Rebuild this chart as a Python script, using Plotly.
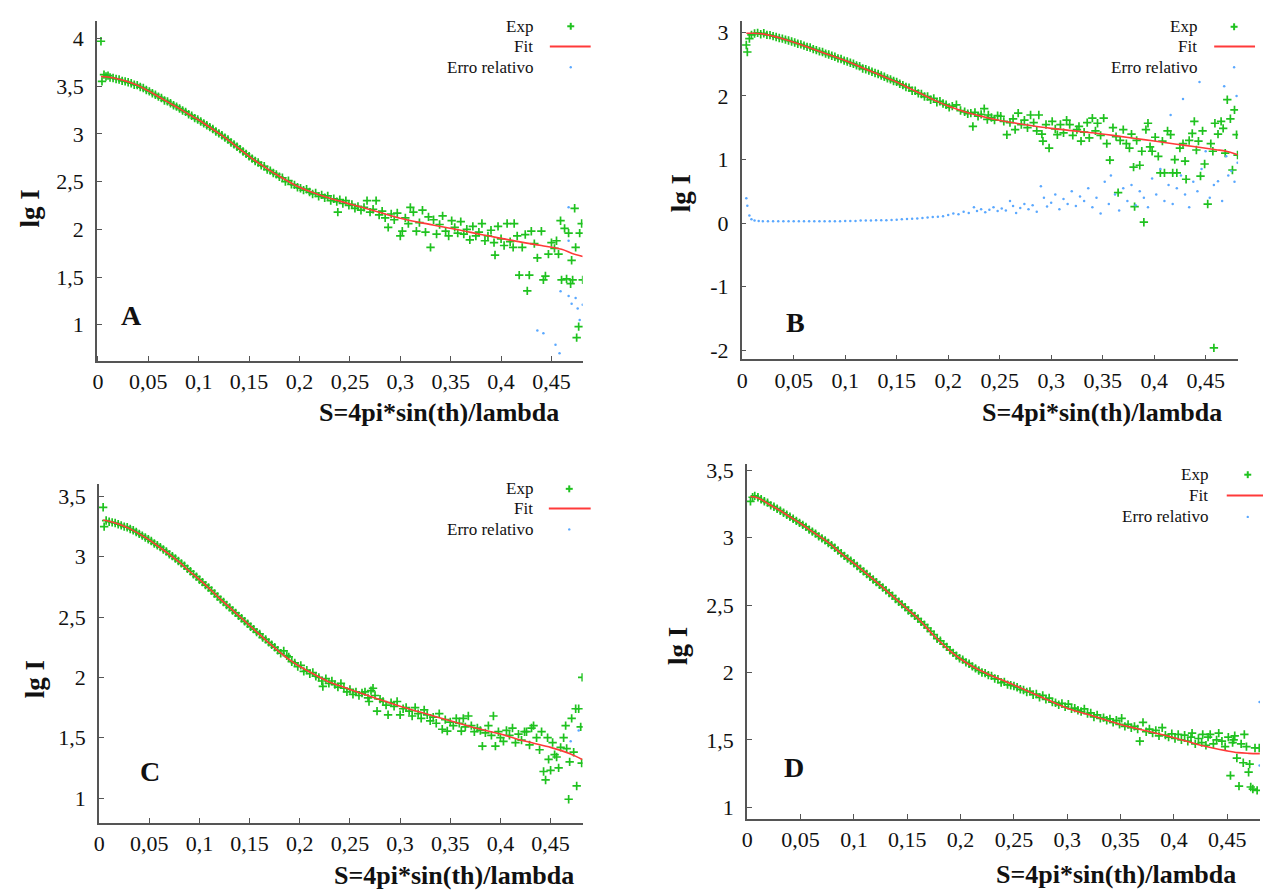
import plotly.graph_objects as go

# ---------------- data (S, lg I) ----------------
A_EXP = [(0.003,3.97),(0.004,3.55),(0.006,3.62),(0.008,3.60),(0.010,3.61),(0.012,3.59),(0.015,3.585),(0.018,3.575),
(0.021,3.57),(0.024,3.555),(0.027,3.55),(0.030,3.54),(0.033,3.53),(0.036,3.515),(0.039,3.51),(0.042,3.49),(0.045,3.48),
(0.048,3.46),(0.051,3.445),(0.054,3.425),(0.057,3.41),(0.060,3.39),(0.063,3.375),(0.066,3.35),(0.069,3.34),(0.072,3.32),
(0.075,3.30),(0.078,3.285),(0.081,3.265),(0.084,3.245),(0.087,3.23),(0.090,3.205),(0.093,3.19),(0.096,3.165),(0.099,3.15),
(0.102,3.13),(0.105,3.11),(0.108,3.09),(0.111,3.07),(0.114,3.05),(0.117,3.025),(0.120,3.005),(0.123,2.985),(0.126,2.96),
(0.129,2.94),(0.132,2.91),(0.135,2.89),(0.138,2.865),(0.141,2.84),(0.144,2.815),(0.147,2.79),(0.150,2.765),(0.153,2.74),
(0.156,2.715),(0.159,2.70),(0.162,2.67),(0.165,2.66),(0.168,2.625),(0.171,2.615),(0.174,2.59),(0.177,2.575),(0.180,2.55),
(0.183,2.54),(0.186,2.50),(0.189,2.51),(0.192,2.47),(0.195,2.465),(0.198,2.44),(0.201,2.43),(0.204,2.41),(0.207,2.42),
(0.210,2.39),(0.213,2.37),(0.216,2.38),(0.219,2.345),(0.222,2.36),(0.225,2.33),(0.228,2.35),(0.231,2.30),(0.234,2.32),
(0.237,2.29),(0.238,2.18),(0.240,2.31),(0.243,2.27),(0.246,2.30),(0.249,2.25),(0.252,2.26),(0.255,2.22),(0.258,2.24),
(0.261,2.20),(0.264,2.23),(0.267,2.30),(0.270,2.18),(0.273,2.21),(0.276,2.30),(0.279,2.15),(0.282,2.19),(0.285,2.12),
(0.288,2.02),(0.291,2.16),(0.294,2.10),(0.297,2.17),(0.300,1.93),(0.302,1.98),(0.305,2.12),(0.308,2.06),(0.310,2.23),
(0.313,2.18),(0.316,1.98),(0.319,2.07),(0.322,2.20),(0.325,1.97),(0.328,2.13),(0.330,1.81),(0.333,2.10),(0.336,1.95),
(0.339,2.05),(0.342,2.14),(0.345,1.98),(0.348,1.93),(0.351,2.09),(0.354,2.02),(0.357,1.96),(0.360,2.08),(0.363,1.95),
(0.366,2.00),(0.369,1.89),(0.372,2.03),(0.375,1.93),(0.378,1.97),(0.381,2.06),(0.384,1.88),(0.387,1.93),(0.390,1.99),
(0.393,1.86),(0.394,1.73),(0.397,2.03),(0.400,1.90),(0.403,1.83),(0.406,2.06),(0.409,1.87),(0.412,1.81),(0.413,2.06),
(0.416,1.93),(0.418,1.52),(0.421,1.81),(0.424,1.945),(0.426,1.355),(0.428,1.52),(0.430,1.98),(0.433,1.85),(0.436,1.70),
(0.440,1.98),(0.442,1.47),(0.444,1.51),(0.447,1.74),(0.450,1.86),(0.453,1.80),(0.455,1.88),(0.457,1.74),(0.459,2.09),
(0.460,1.47),(0.463,2.01),(0.465,1.48),(0.467,1.96),(0.469,1.43),(0.470,1.675),(0.471,1.47),(0.473,2.22),(0.474,1.81),
(0.475,0.865),(0.477,0.98),(0.478,1.96),(0.480,2.06),(0.481,1.47)]

A_FIT = [(0.003,3.600),(0.01,3.595),(0.02,3.575),(0.03,3.545),(0.04,3.505),(0.05,3.45),(0.06,3.39),(0.07,3.33),(0.08,3.27),
(0.09,3.205),(0.10,3.145),(0.11,3.075),(0.12,3.005),(0.13,2.93),(0.14,2.845),(0.15,2.765),(0.16,2.69),(0.17,2.62),
(0.18,2.555),(0.19,2.495),(0.20,2.44),(0.22,2.36),(0.24,2.295),(0.26,2.235),(0.28,2.175),(0.30,2.115),(0.32,2.07),
(0.34,2.03),(0.36,1.99),(0.38,1.945),(0.40,1.905),(0.42,1.865),(0.44,1.83),(0.46,1.79),(0.47,1.75),(0.481,1.715)]

A_ERR = [(0.436,0.94),(0.442,0.91),(0.454,0.79),(0.458,0.70),(0.459,1.35),(0.467,1.30),(0.470,1.22),(0.474,1.28),
(0.476,1.17),(0.481,1.21),(0.467,2.23),(0.467,1.88),(0.478,1.05)]

B_EXP = [(0.004,2.80),(0.005,2.69),(0.007,2.90),(0.009,2.96),(0.012,2.98),(0.015,2.99),(0.018,2.97),(0.021,2.985),
(0.024,2.96),(0.027,2.955),(0.030,2.94),(0.033,2.925),(0.036,2.91),(0.039,2.90),(0.042,2.885),(0.045,2.87),(0.048,2.855),
(0.051,2.84),(0.054,2.82),(0.057,2.81),(0.060,2.79),(0.063,2.77),(0.066,2.76),(0.069,2.735),(0.072,2.72),(0.075,2.70),
(0.078,2.69),(0.081,2.665),(0.084,2.65),(0.087,2.63),(0.090,2.615),(0.093,2.59),(0.096,2.58),(0.099,2.555),(0.102,2.54),
(0.105,2.52),(0.108,2.505),(0.111,2.48),(0.114,2.465),(0.117,2.43),(0.120,2.42),(0.123,2.40),(0.126,2.38),(0.129,2.36),
(0.132,2.345),(0.135,2.32),(0.138,2.30),(0.141,2.275),(0.144,2.26),(0.147,2.235),(0.150,2.22),(0.153,2.19),(0.156,2.17),
(0.159,2.14),(0.162,2.13),(0.165,2.08),(0.168,2.08),(0.171,2.04),(0.174,2.03),(0.177,1.99),(0.180,1.99),(0.183,1.94),
(0.186,1.96),(0.189,1.90),(0.192,1.915),(0.195,1.88),(0.198,1.86),(0.201,1.82),(0.204,1.84),(0.208,1.86),(0.212,1.77),
(0.216,1.75),(0.219,1.72),(0.222,1.73),(0.224,1.52),(0.226,1.74),(0.229,1.68),(0.232,1.71),(0.235,1.80),(0.238,1.63),
(0.239,1.70),(0.242,1.66),(0.245,1.62),(0.248,1.69),(0.251,1.68),(0.254,1.60),(0.257,1.39),(0.260,1.58),(0.263,1.64),
(0.265,1.47),(0.268,1.73),(0.271,1.55),(0.274,1.62),(0.277,1.50),(0.280,1.70),(0.283,1.58),(0.286,1.45),(0.288,1.70),
(0.291,1.40),(0.292,1.29),(0.295,1.55),(0.298,1.18),(0.301,1.60),(0.304,1.48),(0.306,1.39),(0.309,1.55),(0.312,1.42),
(0.315,1.62),(0.318,1.55),(0.321,1.38),(0.325,1.47),(0.327,1.52),(0.329,1.29),(0.332,1.43),(0.335,1.58),(0.337,1.34),
(0.340,1.65),(0.343,1.45),(0.345,1.57),(0.348,1.38),(0.351,1.65),(0.354,1.25),(0.357,0.99),(0.360,1.50),(0.363,1.36),
(0.365,0.48),(0.367,1.30),(0.370,1.47),(0.373,1.25),(0.376,1.18),(0.378,1.40),(0.380,0.88),(0.381,0.26),(0.383,1.30),
(0.386,0.91),(0.388,1.13),(0.390,0.015),(0.392,1.47),(0.394,1.57),(0.396,1.20),(0.398,1.13),(0.401,1.35),(0.404,1.05),
(0.406,0.79),(0.408,1.29),(0.410,0.79),(0.413,1.45),(0.416,1.39),(0.418,0.79),(0.420,1.00),(0.422,0.79),(0.425,1.18),
(0.428,1.25),(0.430,0.975),(0.431,0.69),(0.434,1.30),(0.437,1.41),(0.439,1.60),(0.441,1.15),(0.443,1.29),(0.445,0.74),
(0.447,1.45),(0.449,0.93),(0.452,0.30),(0.455,1.25),(0.457,1.13),(0.458,-1.96),(0.459,1.57),(0.462,1.40),(0.465,1.60),
(0.467,1.49),(0.469,1.10),(0.471,1.94),(0.474,1.64),(0.476,0.835),(0.478,1.78),(0.480,1.39),(0.481,1.07)]

B_FIT = [(0.004,2.985),(0.01,2.985),(0.02,2.975),(0.03,2.94),(0.04,2.895),(0.05,2.845),(0.06,2.79),(0.07,2.73),(0.08,2.67),
(0.09,2.615),(0.10,2.555),(0.11,2.49),(0.12,2.42),(0.13,2.355),(0.14,2.285),(0.15,2.22),(0.16,2.14),(0.17,2.06),
(0.18,1.985),(0.19,1.91),(0.20,1.84),(0.22,1.73),(0.24,1.65),(0.26,1.585),(0.28,1.535),(0.30,1.49),(0.32,1.455),
(0.34,1.42),(0.36,1.38),(0.38,1.335),(0.40,1.29),(0.42,1.245),(0.44,1.20),(0.46,1.155),(0.47,1.13),(0.481,1.075)]

B_ERR = [(0.004,0.39),(0.005,0.275),(0.007,0.12),(0.009,0.06),(0.012,0.04),(0.016,0.035),(0.020,0.03),(0.025,0.03),
(0.030,0.03),(0.035,0.03),(0.040,0.03),(0.045,0.03),(0.050,0.03),(0.055,0.03),(0.060,0.03),(0.065,0.03),(0.070,0.03),
(0.075,0.03),(0.080,0.03),(0.085,0.03),(0.090,0.03),(0.095,0.03),(0.100,0.035),(0.105,0.035),(0.110,0.035),(0.115,0.04),
(0.120,0.04),(0.125,0.04),(0.130,0.045),(0.135,0.045),(0.140,0.045),(0.145,0.05),(0.150,0.055),(0.155,0.06),(0.160,0.065),
(0.165,0.07),(0.170,0.075),(0.175,0.08),(0.180,0.09),(0.185,0.095),(0.190,0.10),(0.195,0.11),(0.200,0.13),(0.205,0.15),
(0.210,0.14),(0.215,0.18),(0.220,0.16),(0.225,0.25),(0.228,0.19),(0.232,0.22),(0.236,0.17),(0.240,0.21),(0.244,0.25),
(0.248,0.19),(0.252,0.23),(0.256,0.20),(0.260,0.35),(0.263,0.27),(0.266,0.16),(0.270,0.24),(0.274,0.30),(0.278,0.22),
(0.282,0.28),(0.286,0.18),(0.290,0.58),(0.293,0.40),(0.296,0.26),(0.300,0.32),(0.304,0.45),(0.308,0.22),(0.312,0.38),
(0.316,0.30),(0.320,0.50),(0.324,0.27),(0.328,0.42),(0.332,0.35),(0.336,0.55),(0.340,0.25),(0.344,0.40),(0.348,0.15),
(0.352,0.65),(0.356,0.30),(0.358,0.75),(0.362,0.45),(0.366,0.20),(0.370,0.55),(0.374,0.35),(0.378,0.60),(0.382,0.28),
(0.386,0.50),(0.390,0.40),(0.394,0.25),(0.398,0.70),(0.402,0.45),(0.406,0.85),(0.410,0.35),(0.414,0.60),(0.416,1.70),
(0.418,0.30),(0.422,0.55),(0.426,0.75),(0.428,1.95),(0.430,0.45),(0.434,0.25),(0.438,0.65),(0.442,0.50),(0.444,2.22),
(0.446,0.85),(0.450,1.13),(0.454,0.40),(0.458,0.60),(0.462,0.66),(0.466,0.35),(0.468,2.15),(0.470,1.05),(0.472,0.75),
(0.475,0.82),(0.478,0.65),(0.480,2.00),(0.481,0.95)]

C_EXP = [(0.004,3.41),(0.005,3.25),(0.007,3.30),(0.010,3.29),(0.013,3.285),(0.016,3.28),(0.019,3.27),(0.022,3.26),
(0.025,3.25),(0.028,3.245),(0.031,3.23),(0.034,3.22),(0.037,3.205),(0.040,3.19),(0.043,3.175),(0.046,3.16),(0.049,3.145),
(0.052,3.13),(0.055,3.11),(0.058,3.095),(0.061,3.08),(0.064,3.06),(0.067,3.045),(0.070,3.02),(0.073,3.005),(0.076,2.985),
(0.079,2.965),(0.082,2.945),(0.085,2.925),(0.088,2.90),(0.091,2.88),(0.094,2.855),(0.097,2.835),(0.100,2.81),(0.103,2.79),
(0.106,2.765),(0.109,2.745),(0.112,2.72),(0.115,2.695),(0.118,2.67),(0.121,2.645),(0.124,2.625),(0.127,2.60),(0.130,2.58),
(0.133,2.555),(0.136,2.535),(0.139,2.51),(0.142,2.49),(0.145,2.465),(0.148,2.445),(0.151,2.42),(0.154,2.40),(0.157,2.375),
(0.160,2.36),(0.163,2.33),(0.166,2.315),(0.169,2.29),(0.172,2.27),(0.175,2.25),(0.178,2.225),(0.181,2.20),(0.184,2.22),
(0.187,2.18),(0.189,2.17),(0.192,2.13),(0.195,2.12),(0.198,2.09),(0.201,2.10),(0.204,2.05),(0.207,2.06),(0.210,2.03),
(0.213,2.04),(0.216,2.01),(0.219,2.00),(0.222,1.97),(0.223,1.925),(0.226,1.99),(0.229,1.95),(0.232,1.97),(0.235,1.94),
(0.238,1.92),(0.241,1.95),(0.244,1.91),(0.247,1.88),(0.250,1.90),(0.253,1.86),(0.256,1.88),(0.259,1.85),(0.262,1.87),
(0.265,1.88),(0.268,1.83),(0.269,1.80),(0.271,1.89),(0.273,1.91),(0.275,1.85),(0.277,1.72),(0.280,1.82),(0.283,1.80),
(0.286,1.77),(0.288,1.69),(0.291,1.79),(0.294,1.76),(0.297,1.80),(0.300,1.69),(0.303,1.74),(0.306,1.75),(0.309,1.72),
(0.312,1.68),(0.315,1.75),(0.318,1.70),(0.321,1.66),(0.324,1.73),(0.327,1.69),(0.330,1.64),(0.333,1.67),(0.336,1.62),
(0.339,1.70),(0.342,1.57),(0.345,1.65),(0.347,1.555),(0.350,1.63),(0.353,1.60),(0.356,1.66),(0.359,1.62),(0.361,1.555),
(0.363,1.66),(0.365,1.59),(0.368,1.68),(0.371,1.60),(0.374,1.55),(0.377,1.58),(0.380,1.56),(0.382,1.43),(0.385,1.54),
(0.388,1.60),(0.391,1.52),(0.393,1.68),(0.395,1.43),(0.398,1.55),(0.400,1.50),(0.403,1.47),(0.406,1.56),(0.409,1.52),
(0.412,1.58),(0.415,1.46),(0.418,1.53),(0.421,1.48),(0.424,1.55),(0.426,1.55),(0.429,1.44),(0.431,1.58),(0.433,1.60),
(0.436,1.50),(0.439,1.40),(0.441,1.55),(0.443,1.22),(0.445,1.15),(0.447,1.50),(0.448,1.32),(0.450,1.23),(0.452,1.46),
(0.454,1.36),(0.456,1.34),(0.458,1.25),(0.460,1.42),(0.463,1.50),(0.465,1.60),(0.466,1.41),(0.468,0.99),(0.469,1.30),
(0.471,1.66),(0.473,1.38),(0.475,1.74),(0.476,1.10),(0.478,1.74),(0.480,1.59),(0.481,1.29),(0.4815,2.00)]

C_FIT = [(0.004,3.305),(0.01,3.295),(0.02,3.27),(0.03,3.235),(0.04,3.19),(0.05,3.14),(0.06,3.08),(0.07,3.02),(0.08,2.955),
(0.09,2.88),(0.10,2.81),(0.11,2.735),(0.12,2.655),(0.13,2.58),(0.14,2.505),(0.15,2.43),(0.16,2.355),(0.17,2.28),
(0.18,2.21),(0.19,2.145),(0.20,2.09),(0.21,2.045),(0.22,2.00),(0.23,1.96),(0.24,1.93),(0.25,1.90),(0.275,1.83),
(0.30,1.76),(0.325,1.70),(0.35,1.64),(0.375,1.58),(0.40,1.53),(0.425,1.47),(0.45,1.42),(0.46,1.395),(0.47,1.365),(0.4815,1.32)]

C_ERR = [(0.478,1.56),(0.470,1.47)]

D_EXP = [(0.003,3.27),(0.005,3.30),(0.007,3.31),(0.010,3.30),(0.013,3.285),(0.016,3.27),(0.019,3.26),(0.022,3.24),
(0.025,3.23),(0.028,3.215),(0.031,3.20),(0.034,3.185),(0.037,3.17),(0.040,3.155),(0.043,3.14),(0.046,3.125),(0.049,3.11),
(0.052,3.095),(0.055,3.08),(0.058,3.06),(0.061,3.045),(0.064,3.03),(0.067,3.01),(0.070,2.995),(0.073,2.98),(0.076,2.96),
(0.079,2.945),(0.082,2.925),(0.085,2.905),(0.088,2.885),(0.091,2.865),(0.094,2.845),(0.097,2.83),(0.100,2.81),(0.103,2.79),
(0.106,2.77),(0.109,2.75),(0.112,2.73),(0.115,2.71),(0.118,2.69),(0.121,2.67),(0.124,2.65),(0.127,2.63),(0.130,2.61),
(0.133,2.59),(0.136,2.57),(0.139,2.545),(0.142,2.525),(0.145,2.505),(0.148,2.485),(0.151,2.46),(0.154,2.44),(0.157,2.42),
(0.160,2.40),(0.163,2.375),(0.166,2.355),(0.169,2.33),(0.172,2.305),(0.175,2.28),(0.178,2.25),(0.181,2.235),(0.184,2.21),
(0.187,2.19),(0.190,2.165),(0.193,2.145),(0.196,2.125),(0.199,2.105),(0.202,2.095),(0.205,2.075),(0.208,2.065),(0.211,2.045),
(0.214,2.03),(0.217,2.015),(0.220,2.00),(0.223,1.995),(0.226,1.98),(0.229,1.975),(0.232,1.955),(0.235,1.95),(0.238,1.925),
(0.241,1.93),(0.244,1.91),(0.247,1.905),(0.250,1.90),(0.253,1.89),(0.256,1.875),(0.259,1.87),(0.262,1.855),(0.265,1.86),
(0.268,1.835),(0.271,1.84),(0.274,1.815),(0.277,1.83),(0.280,1.80),(0.283,1.81),(0.286,1.78),(0.289,1.775),(0.292,1.76),
(0.295,1.77),(0.298,1.745),(0.301,1.765),(0.304,1.73),(0.307,1.735),(0.310,1.72),(0.313,1.71),(0.316,1.73),(0.319,1.695),
(0.322,1.70),(0.325,1.67),(0.328,1.685),(0.331,1.66),(0.334,1.665),(0.337,1.645),(0.340,1.655),(0.343,1.63),(0.346,1.645),
(0.349,1.615),(0.351,1.66),(0.354,1.60),(0.357,1.615),(0.360,1.59),(0.363,1.60),(0.366,1.58),(0.368,1.49),(0.371,1.63),
(0.374,1.56),(0.377,1.58),(0.380,1.55),(0.383,1.57),(0.386,1.53),(0.389,1.59),(0.392,1.535),(0.395,1.52),(0.398,1.545),
(0.401,1.51),(0.404,1.54),(0.407,1.50),(0.410,1.535),(0.413,1.49),(0.416,1.52),(0.417,1.55),(0.420,1.47),(0.423,1.51),
(0.426,1.48),(0.427,1.54),(0.430,1.46),(0.432,1.52),(0.434,1.54),(0.437,1.47),(0.440,1.50),(0.442,1.55),(0.445,1.49),
(0.448,1.45),(0.451,1.52),(0.453,1.235),(0.455,1.48),(0.456,1.50),(0.457,1.53),(0.459,1.365),(0.461,1.157),(0.463,1.47),
(0.465,1.33),(0.466,1.54),(0.468,1.45),(0.470,1.26),(0.471,1.32),(0.472,1.15),(0.474,1.135),(0.476,1.44),(0.478,1.125),
(0.480,1.44)]

D_FIT = [(0.003,3.305),(0.01,3.295),(0.02,3.25),(0.025,3.227),(0.03,3.205),(0.04,3.155),(0.05,3.105),(0.06,3.05),
(0.075,2.97),(0.09,2.87),(0.10,2.81),(0.11,2.745),(0.125,2.645),(0.14,2.54),(0.15,2.47),(0.16,2.40),(0.175,2.274),
(0.19,2.16),(0.20,2.10),(0.21,2.05),(0.225,1.99),(0.25,1.907),(0.275,1.82),(0.30,1.735),(0.325,1.675),(0.35,1.614),
(0.375,1.565),(0.40,1.516),(0.425,1.46),(0.45,1.418),(0.46,1.405),(0.47,1.40),(0.4805,1.398)]

D_ERR = [(0.4803,1.78),(0.4803,1.31)]

X_TICKS = [0, 0.05, 0.1, 0.15, 0.2, 0.25, 0.3, 0.35, 0.4, 0.45]
X_TICK_TEXT = ["0", "0,05", "0,1", "0,15", "0,2", "0,25", "0,3", "0,35", "0,4", "0,45"]
Y_TICKS_A = [1, 1.5, 2, 2.5, 3, 3.5, 4]
Y_TICK_TEXT_A = ["1", "1,5", "2", "2,5", "3", "3,5", "4"]
Y_TICKS_B = [-2, -1, 0, 1, 2, 3]
Y_TICK_TEXT_B = ["-2", "-1", "0", "1", "2", "3"]
Y_TICKS_CD = [1, 1.5, 2, 2.5, 3, 3.5]
Y_TICK_TEXT_CD = ["1", "1,5", "2", "2,5", "3", "3,5"]

X_TITLE = "S=4pi*sin(th)/lambda"
Y_TITLE = "lg I"
LEGEND_NAMES = ["Exp", "Fit", "Erro relativo"]

# ---------------- styling / layout ----------------
W, H = 1263, 894
FONT = "Liberation Serif, Times New Roman, serif"
GREEN = "#1fc21f"
RED = "#ff3a3a"
BLUE = "#5aa8ff"
AXC = "#555555"

def fx(p):
    return p / W

def fy(p):
    return 1 - p / H

panels = [
    dict(letter="A", exp=A_EXP, fit=A_FIT, err=A_ERR, xpx=(92.3, 580), ypx=(15, 359.3),
         xr=[-0.001, 0.481], yr=[0.617, 4.184], yt=Y_TICKS_A, ytt=Y_TICK_TEXT_A,
         xtitle=(436, 411), ytitle=(25, 205), lab=(127, 313),
         leg_right=532, leg_y=(20.5, 41, 62), sym_x=568, line_x=(547, 588)),
    dict(letter="B", exp=B_EXP, fit=B_FIT, err=B_ERR, xpx=(739.6, 1238), ypx=(15, 357.3),
         xr=[-0.0005, 0.4815], yr=[-2.14, 3.18], yt=Y_TICKS_B, ytt=Y_TICK_TEXT_B,
         xtitle=(1101, 411), ytitle=(679, 189), lab=(794, 320),
         leg_right=1199, leg_y=(21, 41, 62), sym_x=1234, line_x=(1214, 1255)),
    dict(letter="C", exp=C_EXP, fit=C_FIT, err=C_ERR, xpx=(94.2, 580), ypx=(483.3, 826),
         xr=[-0.0003, 0.482], yr=[0.795, 3.604], yt=Y_TICKS_CD, ytt=Y_TICK_TEXT_CD,
         xtitle=(451, 879), ytitle=(31, 681), lab=(146, 774),
         leg_right=532, leg_y=(488.3, 508.3, 529.3), sym_x=566.5, line_x=(546, 588)),
    dict(letter="D", exp=D_EXP, fit=D_FIT, err=D_ERR, xpx=(744.9, 1260), ypx=(463, 822.3),
         xr=[-0.0003, 0.4807], yr=[0.912, 3.548], yt=Y_TICKS_CD, ytt=Y_TICK_TEXT_CD,
         xtitle=(1115, 878), ytitle=(675, 647), lab=(792, 770),
         leg_right=1209.5, leg_y=(474, 495, 516.7), sym_x=1247.7, line_x=(1226.6, 1263)),
]

fig = go.Figure()
annotations = []
shapes = []
layout_axes = {}

for i, p in enumerate(panels):
    n = "" if i == 0 else str(i + 1)
    xa, ya = "x" + n, "y" + n
    fig.add_trace(go.Scatter(
        x=[v[0] for v in p["exp"]], y=[v[1] for v in p["exp"]], xaxis=xa, yaxis=ya,
        mode="markers", name=LEGEND_NAMES[0], showlegend=False,
        marker=dict(symbol="cross-thin", size=6, line=dict(color=GREEN, width=1.7), color=GREEN)))
    fig.add_trace(go.Scatter(
        x=[v[0] for v in p["fit"]], y=[v[1] for v in p["fit"]], xaxis=xa, yaxis=ya,
        mode="lines", name=LEGEND_NAMES[1], showlegend=False, line_shape="spline",
        line=dict(color=RED, width=1.6)))
    fig.add_trace(go.Scatter(
        x=[v[0] for v in p["err"]], y=[v[1] for v in p["err"]], xaxis=xa, yaxis=ya,
        mode="markers", name=LEGEND_NAMES[2], showlegend=False,
        marker=dict(symbol="circle", size=2.5, color=BLUE, line=dict(width=0))))

    common = dict(showline=True, linecolor=AXC, linewidth=1.6, ticks="inside", ticklen=5,
                  tickwidth=1.4, tickcolor=AXC, showgrid=False, zeroline=False,
                  tickfont=dict(family=FONT, size=22, color="#111111"))
    layout_axes["xaxis" + n] = dict(common, domain=[fx(p["xpx"][0]), fx(p["xpx"][1])], range=p["xr"],
                                    anchor=ya, tickmode="array", tickvals=X_TICKS, ticktext=X_TICK_TEXT,
                                    ticklabelstandoff=0)
    layout_axes["yaxis" + n] = dict(common, domain=[fy(p["ypx"][1]), fy(p["ypx"][0])], range=p["yr"],
                                    anchor=xa, tickmode="array", tickvals=p["yt"], ticktext=p["ytt"],
                                    ticklabelstandoff=7)

    # axis titles and panel letter
    annotations.append(dict(text="<b>%s</b>" % X_TITLE, x=fx(p["xtitle"][0]), y=fy(p["xtitle"][1]),
                            xref="paper", yref="paper", showarrow=False, xanchor="center", yanchor="middle",
                            font=dict(family=FONT, size=26, color="#111111")))
    annotations.append(dict(text="<b>%s</b>" % Y_TITLE, x=fx(p["ytitle"][0]), y=fy(p["ytitle"][1]),
                            xref="paper", yref="paper", showarrow=False, textangle=-90,
                            xanchor="center", yanchor="middle",
                            font=dict(family=FONT, size=27, color="#111111")))
    annotations.append(dict(text="<b>%s</b>" % p["letter"], x=fx(p["lab"][0]), y=fy(p["lab"][1]),
                            xref="paper", yref="paper", showarrow=False, xanchor="center", yanchor="middle",
                            font=dict(family=FONT, size=28, color="#111111")))
    # legend block
    for name, yy in zip(LEGEND_NAMES, p["leg_y"]):
        annotations.append(dict(text=name, x=fx(p["leg_right"]), y=fy(yy), xref="paper", yref="paper",
                                showarrow=False, xanchor="right", yanchor="middle",
                                font=dict(family=FONT, size=17, color="#111111")))
    sx, y0, y1, y2 = p["sym_x"], p["leg_y"][0], p["leg_y"][1], p["leg_y"][2]
    shapes.append(dict(type="line", xref="paper", yref="paper", x0=fx(sx - 3.5), x1=fx(sx + 3.5),
                       y0=fy(y0), y1=fy(y0), line=dict(color=GREEN, width=2)))
    shapes.append(dict(type="line", xref="paper", yref="paper", x0=fx(sx), x1=fx(sx),
                       y0=fy(y0 - 3.5), y1=fy(y0 + 3.5), line=dict(color=GREEN, width=2)))
    shapes.append(dict(type="line", xref="paper", yref="paper", x0=fx(p["line_x"][0]), x1=fx(p["line_x"][1]),
                       y0=fy(y1), y1=fy(y1), line=dict(color=RED, width=2)))
    shapes.append(dict(type="circle", xref="paper", yref="paper", x0=fx(sx - 1.2), x1=fx(sx + 1.2),
                       y0=fy(y2 - 1.2), y1=fy(y2 + 1.2), fillcolor=BLUE, line=dict(width=0)))

fig.update_layout(
    width=W, height=H, margin=dict(l=0, r=0, t=0, b=0),
    paper_bgcolor="white", plot_bgcolor="white", showlegend=False,
    annotations=annotations, shapes=shapes, **layout_axes)

# remove the default page margin so the 1263x894 figure fills the window exactly
fig.write_html("out.html", config={"displayModeBar": False},
               post_script="document.body.style.margin='0px';document.body.style.overflow='hidden';")
